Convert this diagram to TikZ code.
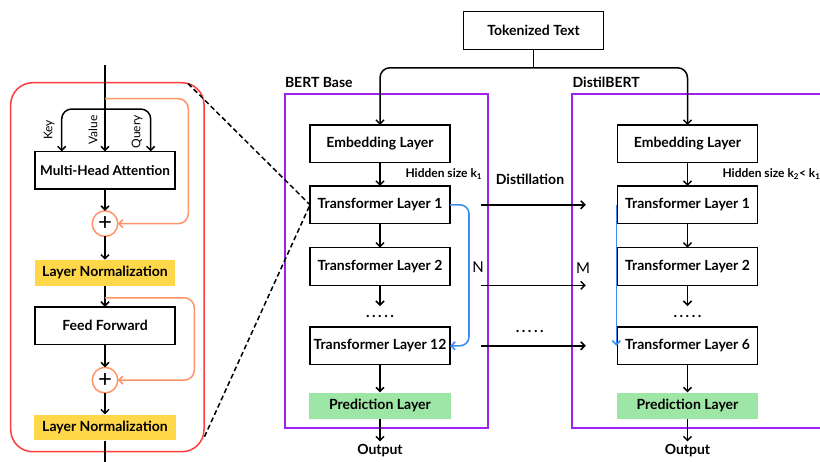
\documentclass[tikz,border=0pt]{standalone}
\usepackage{fontspec}
\setmainfont{Lato}
\usetikzlibrary{arrows.meta,positioning}
\definecolor{bertpurple}{HTML}{A020F0}
\definecolor{blockred}{HTML}{FF3C3C}
\definecolor{residorange}{HTML}{FF9466}
\definecolor{normyellow}{HTML}{FFD84A}
\definecolor{predgreen}{HTML}{9DE6A6}
\definecolor{skipblue}{HTML}{3D8EF0}
\tikzset{layerbox/.style={draw, line width=1.6pt, minimum width=140pt,
  minimum height=37.7pt, inner sep=2pt, outer sep=0pt, align=center},
  normbox/.style={fill=normyellow, minimum width=140pt, minimum height=25.7pt, inner sep=2pt},
  predbox/.style={fill=predgreen, minimum width=141.7pt, minimum height=26.7pt, inner sep=2pt},
  addnode/.style={circle, draw=residorange, line width=1.5pt, minimum size=25.6pt,
  inner sep=0pt, outer sep=0pt, font=\fontsize{24}{24}\selectfont\mdseries},
  flowarrow/.style={-{Straight Barb[length=4pt,width=8pt]}, line width=1.5pt},
  residarrow/.style={-{Straight Barb[length=4pt,width=8pt]}, line width=1.5pt,
  draw=residorange, rounded corners=10pt},
  skiparrow/.style={-{Straight Barb[length=4pt,width=8pt]}, line width=1.6pt,
  draw=skipblue, rounded corners=9pt},
  groupbox/.style={draw=bertpurple, line width=1.8pt},
  zoomline/.style={dashed, dash pattern=on 5pt off 3pt, line width=1.5pt},
  dotrow/.style={minimum height=20pt, inner sep=0pt, font=\fontsize{15}{16}\selectfont\bfseries},
  hint/.style={font=\fontsize{12}{14}\selectfont\bfseries},
  inlabel/.style={rotate=90, font=\fontsize{12}{14}\selectfont\mdseries},
  arch/.style={x=1pt, y=-1pt, font=\fontsize{14}{16}\selectfont\bfseries}}

\begin{document}
\begin{tikzpicture}[arch]
    \clip (0,0) rectangle (820,461);

    % encoder block, zoomed in
    \draw[blockred, line width=1.5pt, rounded corners=22pt] (10.7,82.7) rectangle (204,451.7);
    \node[layerbox, font=\fontsize{13.5}{16}\selectfont\bfseries] (mha) at (105,170.2) {Multi-Head Attention};
    \node[addnode, below=21.8pt of mha] (add1) {+};
    \node[normbox, below=23.2pt of add1] (norm1) {Layer Normalization};
    \node[layerbox, below=21pt of norm1] (ffn) {Feed Forward};
    \node[addnode, below=22.9pt of ffn] (add2) {+};
    \node[normbox, below=21.5pt of add2, minimum width=141.7pt] (norm2) {Layer Normalization};
    \coordinate (input) at (105,65);
    \coordinate (skip1) at (105,98.7);
    \coordinate (split1) at (105,109);
    \coordinate (skip2) at ([yshift=-12pt]norm1.south);
    \coordinate (blocktop) at (188,83.5);
    \coordinate (blockbot) at (204.5,436.7);
    \coordinate (next) at (105,478);
    \node[inlabel] (keylab) at (49,130) {Key};
    \node[inlabel] (vallab) at (93,130) {Value};
    \node[inlabel] (qrylab) at (137,131.7) {Query};
    \draw[flowarrow] (input) -- (mha);
    \draw[flowarrow, rounded corners=10pt] (split1) -| ([xshift=-43.3pt]mha.north);
    \draw[flowarrow, rounded corners=10pt] (split1) -| ([xshift=45.7pt]mha.north);
    \draw[residarrow] (skip1) -- ++(83.3pt,0pt) |- (add1.east);
    \draw[flowarrow] (mha) -- (add1);
    \draw[flowarrow] (add1) -- (norm1);
    \draw[flowarrow] (norm1) -- (ffn);
    \draw[residarrow] (skip2) -- ++(89.3pt,0pt) |- (add2.east);
    \draw[flowarrow] (ffn) -- (add2);
    \draw[flowarrow] (add2) -- (norm2);
    \draw[flowarrow] (norm2) -- (next);

    % input split
    \node[layerbox] (tok) at (533.6,30.5) {Tokenized Text};
    \coordinate (split2) at ([yshift=-18.4pt]tok.south);

    % teacher
    \draw[groupbox] (284.8,94) rectangle (488,427.7);
    \node[anchor=west, inner sep=0pt] (tname) at (284.8,82.3) {BERT Base};
    \node[layerbox] (temb) at (380,143.8) {Embedding Layer};
    \node[layerbox, below=23.3pt of temb] (ttl1) {Transformer Layer 1};
    \node[layerbox, below=24pt of ttl1] (ttl2) {Transformer Layer 2};
    \node[dotrow, below=20.7pt of ttl2] (tdots) {.\,.\,.\,.\,.};
    \node[layerbox, below=0.5pt of tdots] (ttl12) {Transformer Layer 12};
    \node[predbox, below=27.7pt of ttl12] (tpred) {Prediction Layer};
    \node[below=24pt of tpred, inner sep=1pt] (tout) {Output};
    \node[hint, anchor=west] (thid) at (402,173.7) {Hidden size k\textsubscript{1}};

    % student
    \draw[groupbox] (572,94) rectangle (840,427.7);
    \node[anchor=west, inner sep=0pt] (sname) at (572.5,82.3) {DistilBERT};
    \node[layerbox] (semb) at (687.5,143.8) {Embedding Layer};
    \node[layerbox, below=23.3pt of semb] (stl1) {Transformer Layer 1};
    \node[layerbox, below=24pt of stl1] (stl2) {Transformer Layer 2};
    \node[dotrow, below=20.7pt of stl2] (sdots) {.\,.\,.\,.\,.};
    \node[layerbox, below=0.5pt of sdots] (stl6) {Transformer Layer 6};
    \node[predbox, below=27.7pt of stl6] (spred) {Prediction Layer};
    \node[below=24pt of spred, inner sep=1pt] (sout) {Output};
    \node[hint, anchor=west] (shid) at (719,173.7) {Hidden size k\textsubscript{2}< k\textsubscript{1}};

    \draw[line width=1.5pt] (tok) -- (split2);
    \draw[flowarrow, rounded corners=10pt] (split2) -| (temb.north);
    \draw[flowarrow, rounded corners=10pt] (split2) -| (semb.north);
    \foreach \col/\last in {t/ttl12, s/stl6} {
      \draw[flowarrow] (\col emb) -- (\col tl1);
      \draw[flowarrow] (\col tl1) -- (\col tl2);
      \draw[flowarrow] (\col tl2) -- (\col dots);
      \draw[flowarrow] (\last) -- (\col pred);
      \draw[flowarrow] (\col pred) -- ([yshift=2pt]\col out.north);
    }

    % layer skipping
    \draw[skiparrow] (ttl1.east) -- ++(19pt,0pt) |- (ttl12.east);
    \draw[skiparrow] ([xshift=-1.2pt]stl1.west) -- ([xshift=-1.2pt]stl6.west);
    \node[font=\fontsize{15}{18}\selectfont\mdseries] (nlab) at (478,267) {N};
    \node[font=\fontsize{15}{18}\selectfont\mdseries] (mlab) at (583,268) {M};

    % distillation between columns
    \node[font=\fontsize{14}{16}\selectfont\bfseries] (distil) at (530,179.3) {Distillation};
    \node[dotrow] (mdots) at (529.7,331) {.\,.\,.\,.\,.};
    \draw[flowarrow] ([xshift=31.4pt]ttl1.east) -- ([xshift=-31.7pt]stl1.west);
    \draw[flowarrow] ([xshift=31.4pt]ttl2.south east) -- ([xshift=-31.7pt]stl2.south west);
    \draw[flowarrow] ([xshift=31.4pt]ttl12.east) -- ([xshift=-31.7pt]stl6.west);

    % zoom lines
    \draw[zoomline] (blocktop) -- (ttl1.west);
    \draw[zoomline] (blockbot) -- (ttl1.west);
  \end{tikzpicture}
\end{document}
